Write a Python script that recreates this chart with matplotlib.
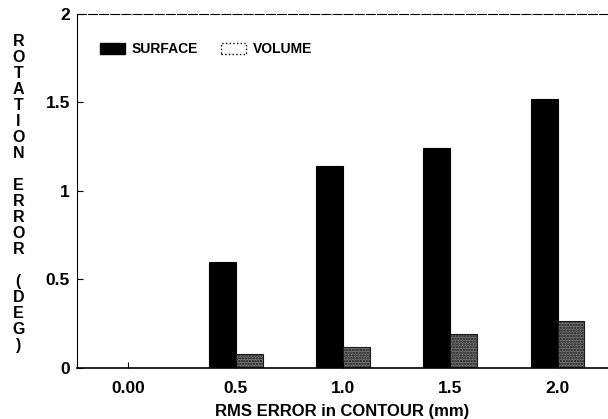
import matplotlib.pyplot as plt
import numpy as np
from matplotlib.patches import Patch

# datos
categorias = ["0.00", "0.5", "1.0", "1.5", "2.0"]
surface = [0.0, 0.60, 1.14, 1.24, 1.52]
volume = [0.0, 0.08, 0.12, 0.19, 0.265]
yticks = [0, 0.5, 1, 1.5, 2]
ytick_labels = ["0", "0.5", "1", "1.5", "2"]
ylabel = "ROTATION ERROR (DEG)"

plt.rcParams['font.family'] = ['Liberation Sans', 'DejaVu Sans']
plt.rcParams['font.weight'] = 'bold'
plt.rcParams['hatch.linewidth'] = 1.2

fig = plt.figure(figsize=(6.08, 4.19), dpi=100)
ax = fig.add_axes([0.1266, 0.1217, 0.8734, 0.845])

x = np.arange(len(categorias))
ancho = 0.25
ax.bar(x - ancho / 2, surface, ancho, color='black', edgecolor='black', linewidth=0.8)
ax.bar(x + ancho / 2, volume, ancho, facecolor='#7a7a7a', edgecolor='#1a1a1a',
       hatch='......', linewidth=0.8)

ax.set_xlim(-0.48, 4.47)
ax.set_ylim(0, 2)
ax.set_xticks(x)
ax.set_xticklabels(categorias, fontsize=12.5, fontweight='bold')
ax.set_yticks(yticks)
ax.set_yticklabels(ytick_labels, fontsize=12.5, fontweight='bold')
ax.tick_params(axis='both', direction='in', length=4, width=0.8)
ax.tick_params(axis='y', pad=5)
ax.tick_params(axis='x', pad=9)
ax.spines['right'].set_visible(False)
ax.spines['top'].set_linestyle((0, (8, 2)))
ax.spines['top'].set_linewidth(0.8)
ax.spines['left'].set_linewidth(0.8)
ax.spines['bottom'].set_linewidth(1.2)

ax.set_xlabel("RMS ERROR in CONTOUR (mm)", fontsize=12, fontweight='bold', labelpad=6)

# etiqueta vertical, una letra por linea
y0 = 0.90
paso = 16 / 419
fila = 0
for palabra in ylabel.split(" "):
    for letra in palabra:
        fig.text(0.030, y0 - fila * paso, letra, ha='center', va='center',
                 fontsize=11.5, fontweight='bold')
        fila += 1
    fila += 1

handles = [Patch(facecolor='black', edgecolor='black', label='SURFACE'),
           Patch(facecolor='white', edgecolor='black', linestyle=':', label='VOLUME')]
leg = ax.legend(handles=handles, loc='upper left', bbox_to_anchor=(0.02, 0.955), ncol=2,
                frameon=False, fontsize=10, handlelength=1.8, handleheight=0.9,
                columnspacing=1.6, handletextpad=0.5)
for t in leg.get_texts():
    t.set_fontweight('bold')

fig.savefig("out.png", dpi=100)
